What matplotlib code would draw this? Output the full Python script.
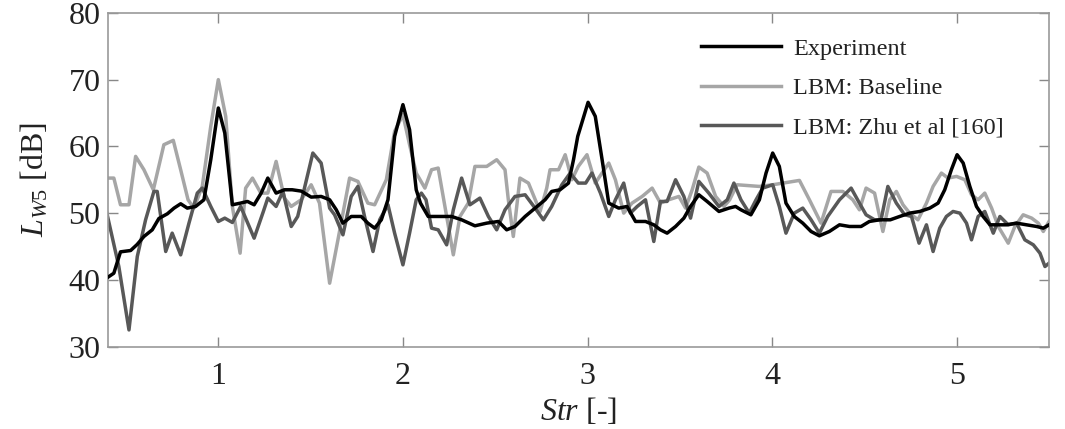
import matplotlib
matplotlib.use("Agg")
import matplotlib.pyplot as plt

# ---- data ----
exp_x = [0.394, 0.434, 0.47, 0.525, 0.56, 0.597, 0.642, 0.678, 0.724, 0.76, 0.796, 0.832, 0.877, 0.922, 0.959,
         1.0, 1.035, 1.076, 1.12, 1.158, 1.194, 1.232, 1.268, 1.313, 1.358, 1.40, 1.449, 1.503, 1.557, 1.603,
         1.639, 1.675, 1.72, 1.774, 1.81, 1.847, 1.883, 1.919, 1.955, 2.0, 2.036, 2.072, 2.095, 2.137, 2.19,
         2.264, 2.318, 2.39, 2.454, 2.517, 2.562, 2.607, 2.662, 2.716, 2.77, 2.806, 2.851, 2.897, 2.924, 2.947,
         3.003, 3.042, 3.079, 3.115, 3.169, 3.214, 3.26, 3.314, 3.359, 3.395, 3.431, 3.477, 3.522, 3.558, 3.603,
         3.648, 3.712, 3.766, 3.802, 3.831, 3.885, 3.931, 3.967, 4.003, 4.039, 4.075, 4.12, 4.166, 4.211, 4.256,
         4.31, 4.365, 4.419, 4.482, 4.527, 4.582, 4.64, 4.691, 4.745, 4.8, 4.854, 4.899, 4.935, 4.971, 5.002,
         5.035, 5.071, 5.107, 5.143, 5.18, 5.225, 5.27, 5.324, 5.378, 5.433, 5.469, 5.5]
exp_y = [40.25, 41, 44.2, 44.4, 45.3, 46.5, 47.5, 49.2, 49.9, 50.75, 51.4, 50.75, 51, 52, 58,
         65.75, 62, 51.25, 51.5, 51.75, 51.25, 53, 55.25, 53, 53.5, 53.5, 53.3, 52.4, 52.5, 52,
         50.5, 48.5, 49.5, 49.5, 48.5, 47.75, 49, 52, 61.5, 66.25, 62.5, 53.5, 51.5, 49.5, 49.5,
         49.5, 49, 48.1, 48.5, 48.75, 47.5, 48, 49.5, 50.75, 52, 53.25, 53.5, 54.5, 58, 61.5,
         66.6, 64.5, 58, 51.5, 50.75, 51, 48.75, 48.75, 48.25, 47.5, 47, 48, 49.25, 51, 52.75,
         51.75, 50.25, 50.75, 51, 50.5, 49.75, 52, 56, 59, 57, 51.5, 49.5, 48.5, 47.25, 46.6,
         47.25, 48.25, 48, 48, 48.75, 49, 49, 49.5, 50, 50.25, 50.75, 51.5, 53.5, 56.5, 58.75,
         57.5, 54, 51, 49.5, 48.25, 48.25, 48.25, 48.5, 48.25, 48, 47.75, 48.25]

base_x = [0.394, 0.434, 0.47, 0.516, 0.552, 0.597, 0.648, 0.705, 0.756, 0.796, 0.836, 0.868, 0.913, 0.959,
          1.0, 1.04, 1.076, 1.118, 1.148, 1.185, 1.23, 1.268, 1.313, 1.358, 1.395, 1.449, 1.503, 1.548,
          1.603, 1.648, 1.711, 1.756, 1.81, 1.847, 1.91, 1.955, 2.0, 2.036, 2.072, 2.119, 2.155, 2.191,
          2.237, 2.273, 2.309, 2.354, 2.39, 2.454, 2.508, 2.553, 2.571, 2.598, 2.634, 2.68, 2.743, 2.779,
          2.797, 2.843, 2.879, 2.915, 2.95, 2.997, 3.042, 3.115, 3.151, 3.196, 3.241, 3.296, 3.35, 3.395,
          3.44, 3.495, 3.531, 3.567, 3.603, 3.648, 3.694, 3.739, 3.77, 3.81, 3.931, 4.003, 4.148, 4.202,
          4.265, 4.319, 4.383, 4.437, 4.473, 4.509, 4.555, 4.6, 4.637, 4.673, 4.709, 4.745, 4.79, 4.836,
          4.872, 4.917, 4.953, 4.999, 5.044, 5.08, 5.116, 5.152, 5.189, 5.225, 5.279, 5.315, 5.36, 5.406,
          5.442, 5.469, 5.5]
base_y = [55.25, 55.25, 51.25, 51.25, 58.5, 56.5, 53.5, 60.25, 60.9, 56.5, 52, 50.75, 54, 63,
          70, 64.5, 51, 44, 53.75, 55.25, 53, 53, 57.75, 52.25, 51, 52, 54.25, 51.5,
          39.5, 46, 55.25, 54.75, 51.5, 51.25, 55, 62.25, 64.75, 60.25, 56, 53.75, 56.5, 56.75,
          49.5, 43.75, 49.5, 51.5, 57, 57, 58, 56.5, 52, 46.5, 55.25, 54.5, 50.25, 53.75,
          56.5, 56.5, 58.75, 55, 57, 58.75, 54.5, 57.5, 55, 50, 51.5, 52.5, 53.75, 51.5,
          52, 52.5, 50.75, 53.5, 56.9, 56, 52.5, 51, 52, 54.25, 54, 54.25, 54.9, 52,
          48.5, 53.25, 53.25, 52, 50.5, 53.75, 53, 47.25, 52, 53.25, 51.25, 50, 49, 51.5,
          54, 56, 55.25, 55.5, 55, 52.75, 52, 53, 50.75, 48, 45.5, 48, 49.75, 49.25,
          48.5, 47.25, 48.75]

zhu_x = [0.394, 0.461, 0.516, 0.561, 0.606, 0.651, 0.669, 0.715, 0.75, 0.796, 0.841, 0.886, 0.913, 0.959,
         1.0, 1.035, 1.076, 1.121, 1.194, 1.244, 1.268, 1.313, 1.35, 1.395, 1.43, 1.512, 1.557, 1.603,
         1.63, 1.675, 1.72, 1.756, 1.792, 1.838, 1.874, 1.919, 1.955, 2.0, 2.036, 2.072, 2.1, 2.125,
         2.155, 2.191, 2.237, 2.273, 2.318, 2.363, 2.417, 2.463, 2.508, 2.553, 2.607, 2.662, 2.716, 2.761,
         2.806, 2.861, 2.906, 2.95, 2.99, 3.024, 3.07, 3.115, 3.151, 3.196, 3.232, 3.269, 3.314, 3.359,
         3.395, 3.431, 3.477, 3.522, 3.558, 3.603, 3.657, 3.712, 3.757, 3.793, 3.831, 3.876, 3.913, 3.949,
         4.003, 4.039, 4.075, 4.12, 4.166, 4.211, 4.256, 4.301, 4.365, 4.428, 4.473, 4.509, 4.555, 4.59,
         4.627, 4.673, 4.718, 4.755, 4.796, 4.836, 4.872, 4.908, 4.944, 4.98, 5.017, 5.053, 5.08, 5.116,
         5.152, 5.198, 5.234, 5.279, 5.324, 5.369, 5.415, 5.451, 5.478, 5.5]
zhu_y = [50.25, 42, 32.5, 43.5, 49, 53.25, 53.25, 44.25, 47, 43.75, 48.5, 53, 53.75, 51,
         48.75, 49.25, 48.6, 51, 46.25, 50.25, 52.25, 51, 53.25, 48, 49.5, 59, 57.5, 50.75,
         49.75, 46.75, 52.5, 54, 49.5, 44.25, 49, 51.25, 47, 42.25, 47, 52, 53, 52,
         47.75, 47.5, 45.25, 50.5, 55.25, 51.25, 52.25, 49.5, 47.5, 50.5, 52.5, 52.75, 50.75, 49,
         51, 54.25, 56, 54.5, 54.5, 56, 53, 49.5, 52, 54.5, 50, 51, 52, 45.75,
         51.75, 51.75, 55, 52.5, 49.25, 54.75, 53, 51, 52, 54.5, 52, 50, 52, 53.75,
         54.25, 51, 47, 50, 50.75, 49, 47, 49.5, 52, 53.75, 51.5, 49.75, 49, 49,
         54, 51.5, 49.75, 49.5, 45.5, 48.25, 44.25, 47.75, 49.5, 50.25, 50, 48.5, 46, 49.5,
         50.25, 47, 49.5, 48.25, 48.5, 46, 45.25, 44, 42, 42.5]

labels = ["Experiment", "LBM: Baseline", "LBM: Zhu et al [160]"]
xticks = [1, 2, 3, 4, 5]
yticks = [30, 40, 50, 60, 70, 80]

# ---- figure ----
plt.rcParams['font.family'] = ['Liberation Serif', 'DejaVu Serif']
plt.rcParams['mathtext.fontset'] = 'custom'
plt.rcParams['mathtext.rm'] = 'Liberation Serif'
plt.rcParams['mathtext.it'] = 'Liberation Serif:italic'

fig = plt.figure(figsize=(10.65, 4.29), dpi=100)
ax = fig.add_axes([0.101, 0.192, 0.884, 0.778])

lw = 2.5
l1, = ax.plot(exp_x, exp_y, color='#000000', lw=lw, zorder=3, label=labels[0])
l2, = ax.plot(base_x, base_y, color='#a6a6a6', lw=lw, zorder=1, label=labels[1])
l3, = ax.plot(zhu_x, zhu_y, color='#585858', lw=lw, zorder=2, label=labels[2])

ax.set_xlim(0.4, 5.5)
ax.set_ylim(30, 80)
ax.set_xticks(xticks)
ax.set_yticks(yticks)
ax.tick_params(direction='in', length=7, width=1, colors='#888888', labelcolor='#222222',
               labelsize=23, top=True, right=True)
ax.tick_params(axis='y', pad=5)
ax.tick_params(axis='x', pad=11)
for s in ax.spines.values():
    s.set_color('#999999')
    s.set_linewidth(1.2)

ax.set_xlabel(r'$\mathit{Str}$ [-]', fontsize=23, color='#222222', labelpad=4)
ax.set_ylabel(r'$L_{W5}$ [dB]', fontsize=23, color='#222222', labelpad=13)

leg = ax.legend(handles=[l1, l2, l3], loc='upper left', bbox_to_anchor=(0.62, 0.955),
                frameon=False, fontsize=17.5, handlelength=3.3, handletextpad=0.5,
                labelspacing=0.72, borderaxespad=0)
for t in leg.get_texts():
    t.set_color('#222222')

fig.savefig('out.png', dpi=100)
